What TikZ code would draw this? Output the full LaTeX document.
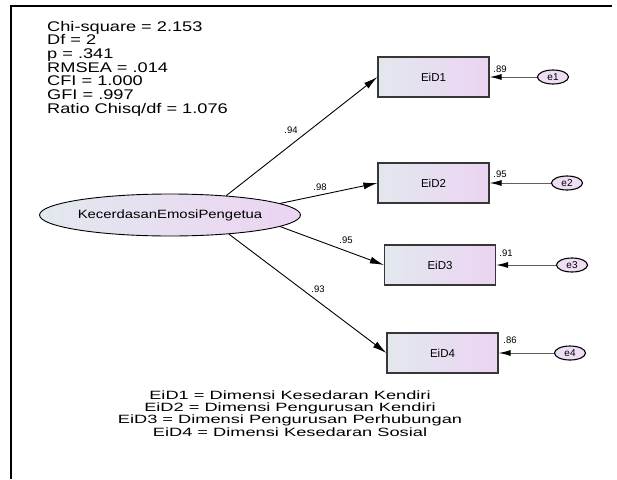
\documentclass[tikz,border=0pt]{standalone}
\usepackage{fontspec}
\setmainfont{Liberation Sans}
\usepackage{graphicx}
\usetikzlibrary{shapes.geometric,arrows.meta}
\definecolor{shadeL}{RGB}{226,232,238}
\definecolor{shadeR}{RGB}{236,212,242}
\definecolor{errfill}{RGB}{238,222,243}
\definecolor{boxline}{RGB}{55,55,55}
\definecolor{errline}{RGB}{95,95,95}

\begin{document}
\begin{tikzpicture}[x=1pt,y=-1pt]
        \tikzstyle{latent}=[draw=black, line width=0.9pt, shape=ellipse, left color=shadeL, right color=shadeR, minimum width=245pt, minimum height=42pt, inner sep=0pt, font=\fontsize{12}{14}\selectfont];
        \tikzstyle{observed}=[draw=boxline, line width=1.2pt, shape=rectangle, left color=shadeL, right color=shadeR, minimum width=111pt, minimum height=40pt, inner sep=0pt, font=\fontsize{11.5}{13}\selectfont];
        \tikzstyle{error}=[draw=black, line width=1.1pt, shape=ellipse, fill=errfill, minimum width=31pt, minimum height=14pt, inner sep=0pt, font=\fontsize{10}{11}\selectfont];
        \tikzstyle{loading}=[draw=black, line width=0.9pt, -{Latex[length=14pt,width=7pt]}];
        \tikzstyle{errarrow}=[draw=errline, line width=1pt, -{Latex[length=12pt,width=6pt,color=black]}];
        \tikzstyle{coef}=[inner sep=0pt, font=\fontsize{9.5}{11}\selectfont];
        \useasboundingbox (0,0) rectangle (617,479);
        \draw[line width=2pt] (612,6) -- (11,6) -- (11,479);
        % fit indices
        \node[anchor=base west, inner sep=0pt, font=\fontsize{14}{12.6}\selectfont] (fit) at (47,31)
            {\scalebox{1.3}[1]{\begin{tabular}[t]{@{}l@{}}
            Chi-square = 2.153\\ Df = 2\\ p = .341\\ RMSEA = .014\\ CFI = 1.000\\ GFI = .997\\ Ratio Chisq/df = 1.076
            \end{tabular}}};
        % model
        \node[latent] (K) at (170,215) {\scalebox{1.24}[1]{KecerdasanEmosiPengetua}};
        \node[observed] (EiD1) at (433.5,77) {EiD1};
        \node[observed] (EiD2) at (433.5,183) {EiD2};
        \node[observed] (EiD3) at (440,265) {EiD3};
        \node[observed] (EiD4) at (442.5,353) {EiD4};
        \node[error] (e1) at (553,77) {e1};
        \node[error] (e2) at (567,183) {e2};
        \node[error] (e3) at (572,265) {e3};
        \node[error] (e4) at (570,353) {e4};
        \draw[loading] (K.19) -- (EiD1.west);
        \draw[loading] (K.6) -- (EiD2.west);
        \draw[loading] (K.-6) -- (EiD3.west);
        \draw[loading] (K.-18) -- (EiD4.west);
        \foreach \i in {1,...,4}
            \draw[errarrow] (e\i) -- (EiD\i.east);
        \node[coef] (l1) at (291,130) {.94};
        \node[coef] (l2) at (320,187) {.98};
        \node[coef] (l3) at (346,240) {.95};
        \node[coef] (l4) at (318,289) {.93};
        \node[coef] (r1) at (500,69) {.89};
        \node[coef] (r2) at (500,174) {.95};
        \node[coef] (r3) at (506,253) {.91};
        \node[coef] (r4) at (510,340) {.86};
        % legend
        \node[anchor=base, inner sep=0pt, font=\fontsize{12}{12.4}\selectfont] (legend) at (290,399)
            {\scalebox{1.52}[1]{\begin{tabular}[t]{@{}c@{}}
            EiD1 = Dimensi Kesedaran Kendiri\\ EiD2 = Dimensi Pengurusan Kendiri\\ EiD3 = Dimensi Pengurusan Perhubungan\\ EiD4 = Dimensi Kesedaran Sosial
            \end{tabular}}};
\end{tikzpicture}
\end{document}
